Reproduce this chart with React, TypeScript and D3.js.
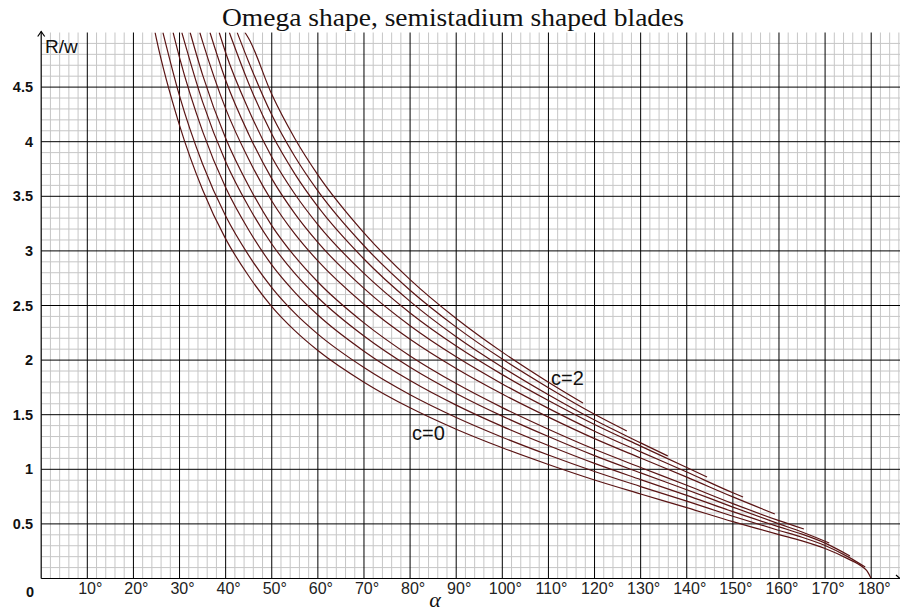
import * as d3 from 'd3';

// curves: [alpha in degrees, R/w], c = 0 ... 2 in steps of 0.2
const curveC00 = [
  [24.7, 5], [25, 4.94], [30, 4.15], [35, 3.56], [40, 3.11], [45, 2.77], [50, 2.49],
  [55, 2.27], [60, 2.088], [70, 1.798], [80, 1.563], [90, 1.367], [100, 1.197],
  [110, 1.044], [120, 0.902], [130, 0.774], [140, 0.649], [150, 0.521], [160, 0.402],
  [165, 0.345], [170, 0.275], [175, 0.18], [178, 0.11], [179, 0.075], [180, 0],
];
const curveC02 = [
  [26.4, 5], [30, 4.419], [35, 3.795], [40, 3.319], [45, 2.959], [50, 2.664], [55, 2.43],
  [60, 2.238], [70, 1.932], [80, 1.683], [90, 1.475], [100, 1.294], [110, 1.131],
  [120, 0.98], [130, 0.842], [140, 0.708], [150, 0.57], [160, 0.44], [165, 0.378],
  [170, 0.302], [175, 0.198], [178.7, 0.105],
];
const curveC04 = [
  [28.6, 5], [30, 4.77], [35, 4.095], [40, 3.581], [45, 3.192], [50, 2.872], [55, 2.621],
  [60, 2.413], [70, 2.082], [80, 1.813], [90, 1.588], [100, 1.393], [110, 1.218],
  [120, 1.054], [130, 0.906], [140, 0.761], [150, 0.612], [160, 0.473], [165, 0.406],
  [170, 0.324], [175.4, 0.206],
];
const curveC06 = [
  [30.5, 5], [35, 4.365], [40, 3.817], [45, 3.404], [50, 3.063], [55, 2.794], [60, 2.573],
  [70, 2.22], [80, 1.934], [90, 1.695], [100, 1.487], [110, 1.3], [120, 1.125],
  [130, 0.967], [140, 0.813], [150, 0.654], [160, 0.5], [165, 0.426], [170.9, 0.325],
];
const curveC08 = [
  [32.3, 5], [35, 4.612], [40, 4.032], [45, 3.594], [50, 3.232], [55, 2.949], [60, 2.715],
  [70, 2.341], [80, 2.038], [90, 1.785], [100, 1.565], [110, 1.367], [120, 1.183],
  [130, 1.017], [140, 0.854], [150, 0.686], [160, 0.53], [165.4, 0.453],
];
const curveC10 = [
  [34.4, 5], [35, 4.917], [40, 4.303], [45, 3.839], [50, 3.457], [55, 3.155], [60, 2.908],
  [70, 2.512], [80, 2.191], [90, 1.923], [100, 1.689], [110, 1.478], [120, 1.281],
  [130, 1.103], [140, 0.928], [150, 0.747], [159.1, 0.591],
];
const curveC12 = [
  [36.6, 5], [40, 4.563], [45, 4.069], [50, 3.662], [55, 3.342], [60, 3.078], [70, 2.657],
  [80, 2.315], [90, 2.03], [100, 1.782], [110, 1.558], [120, 1.349], [130, 1.16],
  [140, 0.975], [150, 0.785], [152.2, 0.746],
];
const curveC14 = [
  [38.6, 5], [40, 4.815], [45, 4.291], [50, 3.86], [55, 3.521], [60, 3.241], [70, 2.794],
  [80, 2.432], [90, 2.129], [100, 1.867], [110, 1.63], [120, 1.41], [130, 1.212],
  [140, 1.017], [144.4, 0.93],
];
const curveC16 = [
  [40.8, 5], [45, 4.533], [50, 4.07], [55, 3.706], [60, 3.405], [70, 2.926], [80, 2.538],
  [90, 2.214], [100, 1.935], [110, 1.683], [120, 1.451], [130, 1.242], [135.9, 1.122],
];
const curveC18 = [
  [42.5, 5], [45, 4.73], [50, 4.246], [55, 3.864], [60, 3.549], [70, 3.047], [80, 2.64],
  [90, 2.302], [100, 2.009], [110, 1.747], [120, 1.504], [127.0, 1.351],
];
const curveC20 = [
  [44.2, 5], [45, 4.945], [50, 4.434], [55, 4.03], [60, 3.697], [70, 3.166], [80, 2.737],
  [90, 2.381], [100, 2.073], [110, 1.798], [117.5, 1.607],
];

const curves = [
  curveC00, curveC02, curveC04, curveC06, curveC08, curveC10,
  curveC12, curveC14, curveC16, curveC18, curveC20,
];

const xTicks = [10, 20, 30, 40, 50, 60, 70, 80, 90, 100, 110, 120, 130, 140, 150, 160, 170, 180];
const yTicks = ['0.5', '1', '1.5', '2', '2.5', '3', '3.5', '4', '4.5'];

const W = 900;
const H = 612;

export default function App() {
  const x = d3.scaleLinear().domain([0, 180]).range([41.2, 871.2]);
  const y = d3.scaleLinear().domain([0, 5]).range([578.5, 32.5]);
  const xRight = 900;

  const minorX = d3.range(2, 188, 2).filter((d) => d % 10 !== 0);
  const majorX = d3.range(10, 190, 10);
  const minorY = d3.range(1, 50).filter((d) => d % 5 !== 0).map((d) => d / 10);
  const majorY = yTicks.map(Number);

  const line = d3
    .line<number[]>()
    .x((d) => x(d[0]))
    .y((d) => y(d[1]))
    .curve(d3.curveMonotoneX);

  const sans = '"Liberation Sans", Arial, sans-serif';

  return (
    <svg
      width={W}
      height={H}
      style={{ position: 'absolute', left: 0, top: 0, background: '#fff' }}
    >
      <defs>
        <clipPath id="plot">
          <rect x={x(0)} y={y(5)} width={xRight - x(0)} height={y(0) - y(5)} />
        </clipPath>
      </defs>

      {/* fine grid */}
      <g stroke="#c6c6c6" strokeWidth={1}>
        {minorX.map((d) => (
          <line key={'mx' + d} x1={x(d)} x2={x(d)} y1={y(5)} y2={y(0)} />
        ))}
        {minorY.map((d) => (
          <line key={'my' + d} x1={x(0)} x2={xRight} y1={y(d)} y2={y(d)} />
        ))}
      </g>

      {/* coarse grid */}
      <g stroke="#000" strokeWidth={1}>
        {majorX.map((d) => (
          <line key={'Mx' + d} x1={x(d)} x2={x(d)} y1={y(5)} y2={y(0)} />
        ))}
        {majorY.map((d) => (
          <line key={'My' + d} x1={x(0)} x2={xRight} y1={y(d)} y2={y(d)} />
        ))}
      </g>

      {/* curves */}
      <g clipPath="url(#plot)" fill="none" stroke="#5a1414" strokeWidth={1.2}>
        {curves.map((c, i) => (
          <path key={i} d={line(c) || ''} />
        ))}
      </g>

      {/* axes */}
      <g stroke="#000" strokeWidth={1.2} fill="none">
        <line x1={x(0)} x2={x(0)} y1={y(0)} y2={y(5) - 1} />
        <line x1={x(0)} x2={xRight} y1={y(0)} y2={y(0)} />
        <path d={`M${x(0) - 3.5},${y(5) + 4} L${x(0)},${y(5) - 1} L${x(0) + 3.5},${y(5) + 4}`} />
        <path d={`M${xRight - 4},${y(0) - 3.5} L${xRight},${y(0)}`} />
      </g>

      {/* y labels */}
      <g fontFamily={sans} fontSize={14.5} fontWeight="bold" textAnchor="end" fill="#111">
        {yTicks.map((t) => (
          <text key={t} x={33} y={y(Number(t)) + 5}>
            {t}
          </text>
        ))}
        <text x={34} y={597}>0</text>
      </g>
      <text x={45} y={53} fontFamily={sans} fontSize={19} fill="#111">
        R/w
      </text>

      {/* x labels */}
      <g fontFamily={sans} fontSize={16} textAnchor="middle" fill="#222">
        {xTicks.map((t) => (
          <text key={t} x={x(t) + 3} y={594}>
            {t + '°'}
          </text>
        ))}
      </g>
      <text
        x={435}
        y={607}
        textAnchor="middle"
        fontFamily='"Liberation Serif", serif'
        fontStyle="italic"
        fontSize={22}
        fill="#111"
      >
        α
      </text>

      {/* curve labels */}
      <text x={412} y={440} fontFamily={sans} fontSize={20} fill="#111">
        c=0
      </text>
      <text x={551} y={385} fontFamily={sans} fontSize={20} fill="#111">
        c=2
      </text>

      {/* title */}
      <text
        x={453}
        y={26}
        textAnchor="middle"
        fontFamily='"Liberation Serif", serif'
        fontSize={26}
        textLength={462}
        lengthAdjust="spacingAndGlyphs"
        fill="#111"
      >
        Omega shape, semistadium shaped blades
      </text>
    </svg>
  );
}
